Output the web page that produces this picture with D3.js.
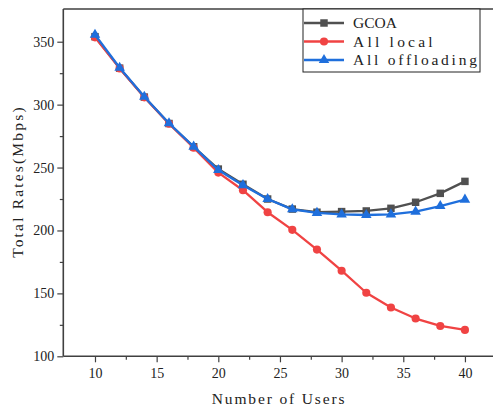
<!DOCTYPE html>
<html>
<head>
<meta charset="utf-8">
<script src="https://cdn.jsdelivr.net/npm/d3@7/dist/d3.min.js"></script>
<style>
  html, body { margin: 0; padding: 0; background: #fff; }
  svg { display: block; }
  svg text { font-family: "Liberation Serif", "DejaVu Serif", serif !important; fill: #222; }
</style>
</head>
<body>
<svg id="chart" width="493" height="408"></svg>
<script>
// Number of users on the x axis
const users = [10, 12, 14, 16, 18, 20, 22, 24, 26, 28, 30, 32, 34, 36, 38, 40];

// Total rate (Mbps) for each scheme
const gcoa         = [354, 329, 306, 285, 266.5, 248.8, 236.7, 225, 217, 214.5, 215, 215.5, 217.6, 222.4, 229.5, 239];
const allLocal     = [353.5, 328.8, 305.8, 284.8, 265.8, 246, 232, 214.5, 200.5, 184.8, 168, 150.5, 138.8, 130, 124.1, 121];
const allOffload   = [355.5, 329.3, 306.3, 285.2, 266.6, 248, 236, 225, 216.8, 214, 212.8, 212.3, 212.8, 215, 219.4, 224.5];

const seriesNames  = ["GCOA", "All local", "All offloading"];
const seriesColors = ["#505050", "#f04343", "#1f6fdc"];
const seriesShapes = [d3.symbolSquare, d3.symbolCircle, d3.symbolTriangle];
const seriesSizes  = [56, 52, 48];

const xTicks = [10, 15, 20, 25, 30, 35, 40];
const xMinor = [12.5, 17.5, 22.5, 27.5, 32.5, 37.5];
const yTicks = [100, 150, 200, 250, 300, 350];
const yMinor = [125, 175, 225, 275, 325];

const xTitle = "Number of Users";
const yTitle = "Total Rates(Mbps)";

// Text is laid out on a fixed character pitch (monospaced look);
// text that is already wider than the pitch keeps its natural width
const pitch = 8.85;
const spread = sel => sel.each(function () {
  const target = this.textContent.length * pitch;
  if (this.getComputedTextLength() < target) {
    d3.select(this).attr("textLength", target).attr("lengthAdjust", "spacing");
  }
});

const svg = d3.select("#chart");
const plotLeft = 63.3, plotRight = 497, plotTop = 9, plotBottom = 356.3;

const x = d3.scaleLinear().domain([7.43, 42.6]).range([plotLeft, plotRight]);
const y = d3.scaleLinear().domain([100, 376]).range([plotBottom, plotTop]);

const axisColor = "#404040";

// Bottom axis with major and minor ticks
const gx = svg.append("g").attr("transform", `translate(0,${plotBottom})`);
gx.call(d3.axisBottom(x).tickValues(xTicks).tickSize(6).tickPadding(6).tickFormat(d3.format("d")));
gx.append("g").call(d3.axisBottom(x).tickValues(xMinor).tickSize(3.5).tickFormat(""));
gx.selectAll(".domain").remove();
gx.selectAll("line").attr("stroke", axisColor).attr("stroke-width", 1.2);
gx.selectAll("text").style("font-size", "14px").attr("fill", "#222");

// Left axis with major and minor ticks
const gy = svg.append("g").attr("transform", `translate(${plotLeft},0)`);
gy.call(d3.axisLeft(y).tickValues(yTicks).tickSize(6).tickPadding(3).tickFormat(d3.format("d")));
gy.append("g").call(d3.axisLeft(y).tickValues(yMinor).tickSize(3.5).tickFormat(""));
gy.selectAll(".domain").remove();
gy.selectAll("line").attr("stroke", axisColor).attr("stroke-width", 1.2);
gy.selectAll("text").style("font-size", "14px").attr("fill", "#222");

// Frame lines: left, bottom, top
svg.append("path")
  .attr("d", `M${plotLeft},${plotTop}V${plotBottom}M${plotLeft},${plotBottom}H493M${plotLeft},${plotTop}H493`)
  .attr("fill", "none").attr("stroke", axisColor).attr("stroke-width", 1.6);

// Axis titles
svg.append("text")
  .attr("x", (plotLeft + 493) / 2).attr("y", 404)
  .attr("text-anchor", "middle")
  .style("font-size", "15.5px")
  .text(xTitle)
  .call(spread);

svg.append("text")
  .attr("transform", `translate(23,${(plotTop + plotBottom) / 2}) rotate(-90)`)
  .attr("text-anchor", "middle")
  .style("font-size", "15.5px")
  .text(yTitle)
  .call(spread);

// Series lines and markers
const allSeries = [gcoa, allLocal, allOffload];
const line = d3.line().x((d, i) => x(users[i])).y(d => y(d));

allSeries.forEach((vals, s) => {
  const g = svg.append("g");
  g.append("path")
    .datum(vals)
    .attr("d", line)
    .attr("fill", "none")
    .attr("stroke", seriesColors[s])
    .attr("stroke-width", 2.3)
    .attr("stroke-linejoin", "round");
  g.selectAll("path.mark")
    .data(vals)
    .join("path")
    .attr("class", "mark")
    .attr("d", d3.symbol().type(seriesShapes[s]).size(seriesSizes[s]))
    .attr("transform", (d, i) => `translate(${x(users[i])},${y(d)})`)
    .attr("fill", seriesColors[s]);
});

// Legend
const lg = svg.append("g").attr("transform", "translate(303,9)");
lg.append("rect")
  .attr("x", 0).attr("y", 0).attr("width", 177).attr("height", 63)
  .attr("fill", "#fff").attr("stroke", "#222").attr("stroke-width", 1);
seriesNames.forEach((name, s) => {
  const cy = 14 + s * 18.5;
  lg.append("line")
    .attr("x1", 1).attr("x2", 41).attr("y1", cy).attr("y2", cy)
    .attr("stroke", seriesColors[s]).attr("stroke-width", 2.3);
  lg.append("path")
    .attr("d", d3.symbol().type(seriesShapes[s]).size(seriesSizes[s]))
    .attr("transform", `translate(21,${cy})`)
    .attr("fill", seriesColors[s]);
  lg.append("text")
    .attr("x", 50).attr("y", cy)
    .attr("dy", "0.35em")
    .style("font-size", "15.5px")
    .text(name)
    .call(spread);
});
</script>
</body>
</html>
